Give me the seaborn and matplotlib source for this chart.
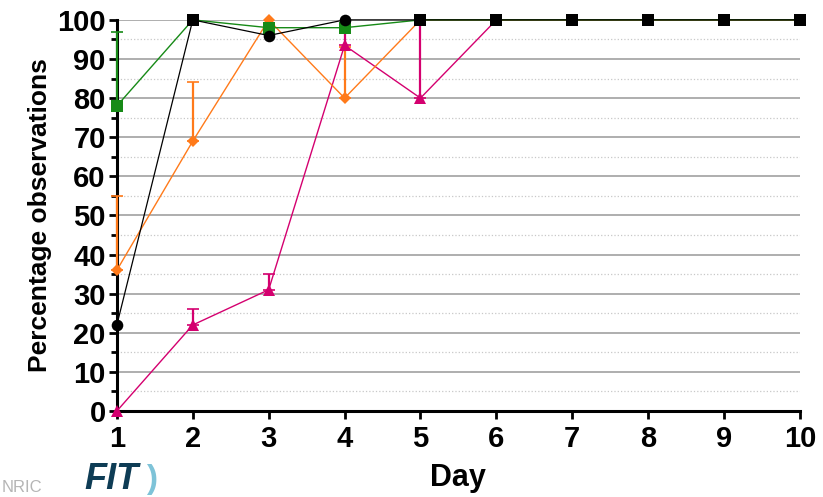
import numpy as np
import pandas as pd
import matplotlib
matplotlib.use("Agg")
import matplotlib.pyplot as plt
from matplotlib.ticker import MultipleLocator
import seaborn as sns

# data
days = [1, 2, 3, 4, 5, 6, 7, 8, 9, 10]
black_vals = [22, 100, 96, 100, 100, 100, 100, 100, 100, 100]
green_vals = [78, 100, 98, 98, 100, 100, 100, 100, 100, 100]
green_upper = [97, np.nan, np.nan, np.nan, np.nan, np.nan, np.nan, np.nan, np.nan, np.nan]
orange_vals = [36, 69, 100, 80, 100, 100, 100, 100, 100, 100]
orange_upper = [55, 84, np.nan, 93, np.nan, np.nan, np.nan, np.nan, np.nan, np.nan]
magenta_vals = [0, 22, 31, 93.5, 80, 100, 100, 100, 100, 100]
magenta_upper = [np.nan, 26, 35, 98, 100, np.nan, np.nan, np.nan, np.nan, np.nan]

sns.set_theme(style="white")
plt.rcParams['font.family'] = ['Liberation Sans', 'DejaVu Sans']
plt.rcParams['text.color'] = 'black'
plt.rcParams['axes.labelcolor'] = 'black'
plt.rcParams['xtick.color'] = 'black'
plt.rcParams['ytick.color'] = 'black'

fig = plt.figure(figsize=(8.23, 4.97), dpi=100)
ax = fig.add_axes([0.142, 0.173, 0.830, 0.787])

# grid first
ax.yaxis.set_major_locator(MultipleLocator(10))
ax.yaxis.set_minor_locator(MultipleLocator(5))
ax.grid(True, which='major', axis='y', color='#a8a8a8', lw=1.3, ls='-', zorder=0)
ax.grid(True, which='minor', axis='y', color='#c8c8c8', lw=0.9, ls=':', zorder=0)
ax.grid(False, axis='x')

series = [
    ("magenta", magenta_vals, magenta_upper, '#d4006f', '^', 8),
    ("orange", orange_vals, orange_upper, '#ff7a1a', 'D', 6),
    ("green", green_vals, green_upper, '#178a17', 's', 8),
]

for name, vals, upper, col, mk, ms in series:
    df = pd.DataFrame({"day": days, "val": vals, "upper": upper})
    err = (df["upper"] - df["val"]).fillna(0).clip(lower=0)
    has = df["upper"].notna()
    ax.errorbar(df["day"][has], df["val"][has], yerr=[np.zeros(has.sum()), err[has]],
                fmt='none', ecolor=col, elinewidth=1.6, capsize=4, capthick=1.2,
                zorder=3, clip_on=False)
    sns.lineplot(data=df, x="day", y="val", ax=ax, color=col, lw=1.0,
                 marker=mk, markersize=ms, markeredgewidth=0, zorder=4,
                 clip_on=False, legend=False)

# black series: line, then circles / squares (square where it sits with green at 100)
bdf = pd.DataFrame({"day": days, "val": black_vals, "green": green_vals})
sns.lineplot(data=bdf, x="day", y="val", ax=ax, color='black', lw=0.9,
             zorder=5, clip_on=False, legend=False)
both = (bdf["val"] == 100) & (bdf["green"] == 100)
sns.scatterplot(data=bdf[~both], x="day", y="val", ax=ax, color='black',
                marker='o', s=70, linewidth=0, zorder=6, clip_on=False, legend=False)
sns.scatterplot(data=bdf[both], x="day", y="val", ax=ax, color='black',
                marker='s', s=70, linewidth=0, zorder=6, clip_on=False, legend=False)

ax.set_xlim(1, 10)
ax.set_ylim(0, 100)
ax.set_xticks(days)

for s in ['top', 'right']:
    ax.spines[s].set_visible(False)
for s in ['left', 'bottom']:
    ax.spines[s].set_color('black')
    ax.spines[s].set_linewidth(2.2)
    ax.spines[s].set_zorder(2)

ax.tick_params(axis='both', which='major', direction='out', length=6, width=2,
               labelsize=21, pad=2, left=True, bottom=True)
ax.tick_params(axis='x', which='major', pad=4)
ax.tick_params(axis='y', which='minor', direction='out', length=4, width=2, left=True)
for lab in ax.get_xticklabels() + ax.get_yticklabels():
    lab.set_fontweight('bold')

ax.set_xlabel("Day", fontsize=22, fontweight='bold', labelpad=7)
ax.set_ylabel("Percentage observations", fontsize=19, fontweight='bold', labelpad=4)

# watermark logo at bottom left
fig.text(0.002, 0.004, "NRIC", fontsize=12, color='#b5b5b5', ha='left', va='bottom')
fig.text(0.102, 0.0, "FIT", fontsize=26, color='#0e3c55', fontweight='bold',
         fontstyle='italic', ha='left', va='bottom')
fig.text(0.178, 0.004, ")", fontsize=24, color='#7ec3d8', fontweight='bold',
         ha='left', va='bottom')

fig.savefig("out.png", dpi=100)
